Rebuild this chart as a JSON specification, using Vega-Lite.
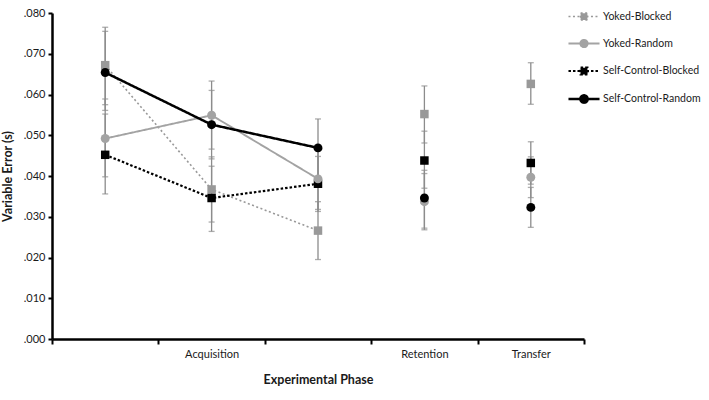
{
  "$schema": "https://vega.github.io/schema/vega-lite/v6.json",
  "width": 532,
  "height": 326,
  "autosize": {"type": "none"},
  "padding": {"left": 52, "top": 13, "right": 125, "bottom": 61},
  "background": "white",
  "data": {
    "values": [
      {"series": "Yoked-Blocked", "phase": "A1", "mean": 0.0672, "lo": 0.0575, "hi": 0.0765},
      {"series": "Yoked-Random", "phase": "A1", "mean": 0.0492, "lo": 0.0398, "hi": 0.0589},
      {"series": "Self-Control-Blocked", "phase": "A1", "mean": 0.0452, "lo": 0.0356, "hi": 0.0552},
      {"series": "Self-Control-Random", "phase": "A1", "mean": 0.0654, "lo": 0.0561, "hi": 0.0755},
      {"series": "Yoked-Blocked", "phase": "A2", "mean": 0.0367, "lo": 0.0287, "hi": 0.0447},
      {"series": "Yoked-Random", "phase": "A2", "mean": 0.0549, "lo": 0.0466, "hi": 0.0633},
      {"series": "Self-Control-Blocked", "phase": "A2", "mean": 0.0346, "lo": 0.0264, "hi": 0.0424},
      {"series": "Self-Control-Random", "phase": "A2", "mean": 0.0526, "lo": 0.0442, "hi": 0.0610},
      {"series": "Yoked-Blocked", "phase": "A3", "mean": 0.0266, "lo": 0.0195, "hi": 0.0337},
      {"series": "Yoked-Random", "phase": "A3", "mean": 0.0393, "lo": 0.0318, "hi": 0.0462},
      {"series": "Self-Control-Blocked", "phase": "A3", "mean": 0.0381, "lo": 0.0313, "hi": 0.0448},
      {"series": "Self-Control-Random", "phase": "A3", "mean": 0.0469, "lo": 0.0399, "hi": 0.0540},
      {"series": "Yoked-Blocked", "phase": "Retention", "mean": 0.0552, "lo": 0.0481, "hi": 0.0621},
      {"series": "Yoked-Random", "phase": "Retention", "mean": 0.0337, "lo": 0.0268, "hi": 0.0406},
      {"series": "Self-Control-Blocked", "phase": "Retention", "mean": 0.0438, "lo": 0.0370, "hi": 0.0510},
      {"series": "Self-Control-Random", "phase": "Retention", "mean": 0.0346, "lo": 0.0272, "hi": 0.0414},
      {"series": "Yoked-Blocked", "phase": "Transfer", "mean": 0.0626, "lo": 0.0576, "hi": 0.0678},
      {"series": "Yoked-Random", "phase": "Transfer", "mean": 0.0397, "lo": 0.0347, "hi": 0.0447},
      {"series": "Self-Control-Blocked", "phase": "Transfer", "mean": 0.0432, "lo": 0.0380, "hi": 0.0484},
      {"series": "Self-Control-Random", "phase": "Transfer", "mean": 0.0323, "lo": 0.0274, "hi": 0.0372}
    ]
  },
  "encoding": {
    "x": {
      "field": "phase",
      "type": "ordinal",
      "sort": ["A1", "A2", "A3", "Retention", "Transfer"],
      "scale": {"type": "band", "paddingInner": 0, "paddingOuter": 0},
      "axis": {
        "title": "Experimental Phase",
        "labelExpr": "datum.value == 'A2' ? 'Acquisition' : (datum.value == 'A1' || datum.value == 'A3') ? '' : datum.value",
        "labelAngle": 0,
        "tickBand": "extent",
        "tickSize": 5,
        "labelPadding": 4,
        "titlePadding": 14
      }
    }
  },
  "layer": [
    {
      "mark": {"type": "rule", "color": "#8c8c8c", "strokeWidth": 1.3},
      "encoding": {
        "y": {
          "field": "lo",
          "type": "quantitative",
          "scale": {"domain": [0, 0.08], "nice": false},
          "axis": {
            "title": "Variable Error (s)",
            "values": [0, 0.01, 0.02, 0.03, 0.04, 0.05, 0.06, 0.07, 0.08],
            "labelExpr": "replace(format(datum.value, '.3f'), '0.', '.')",
            "tickSize": 4,
            "labelPadding": 3,
            "titlePadding": 9
          }
        },
        "y2": {"field": "hi"}
      }
    },
    {
      "mark": {"type": "tick", "color": "#8c8c8c", "size": 6, "thickness": 1.3},
      "encoding": {"y": {"field": "lo", "type": "quantitative"}}
    },
    {
      "mark": {"type": "tick", "color": "#8c8c8c", "size": 6, "thickness": 1.3},
      "encoding": {"y": {"field": "hi", "type": "quantitative"}}
    },
    {
      "transform": [{"filter": "indexof(['A1','A2','A3'], datum.phase) >= 0"}],
      "mark": {"type": "line"},
      "encoding": {
        "y": {"field": "mean", "type": "quantitative"},
        "color": {
          "field": "series",
          "type": "nominal",
          "scale": {
            "domain": ["Yoked-Blocked", "Yoked-Random", "Self-Control-Blocked", "Self-Control-Random"],
            "range": ["#999999", "#a3a3a3", "#000000", "#000000"]
          },
          "legend": {
            "orient": "none",
            "legendX": 517,
            "legendY": -11,
            "title": null,
            "padding": 0,
            "symbolSize": 729,
            "rowPadding": 5,
            "labelOffset": 4,
            "labelFontSize": 10.5,
            "labelLimit": 200,
            "labelColor": "#1a1a1a",
            "encode": {
              "symbols": {
                "update": {
                  "shape": {"signal": "indexof(datum.value, 'Blocked') >= 0 ? 'M-1.15,0H1.15M-0.25,-0.25H0.25V0.25H-0.25Z' : 'M-1.15,0H1.15M0.27,0A0.27,0.27,0,1,1,-0.27,0A0.27,0.27,0,1,1,0.27,0Z'"},
                  "fill": {"scale": "color", "field": "value"},
                  "stroke": {"scale": "color", "field": "value"},
                  "strokeWidth": {"signal": "datum.value == 'Yoked-Blocked' ? 1.6 : 2.5"}
                }
              }
            }
          }
        },
        "strokeDash": {
          "field": "series",
          "type": "nominal",
          "scale": {
            "domain": ["Yoked-Blocked", "Yoked-Random", "Self-Control-Blocked", "Self-Control-Random"],
            "range": [[2, 2.5], [1, 0], [2.5, 2], [1, 0]]
          }
        },
        "strokeWidth": {
          "field": "series",
          "type": "nominal",
          "scale": {
            "domain": ["Yoked-Blocked", "Yoked-Random", "Self-Control-Blocked", "Self-Control-Random"],
            "range": [1.6, 2.5, 2.5, 2.5]
          },
          "legend": null
        }
      }
    },
    {
      "transform": [{"filter": "indexof(datum.series, 'Blocked') >= 0"}],
      "mark": {"type": "square", "opacity": 1, "size": 72},
      "encoding": {
        "y": {"field": "mean", "type": "quantitative"},
        "color": {"field": "series", "type": "nominal"}
      }
    },
    {
      "transform": [{"filter": "indexof(datum.series, 'Random') >= 0"}],
      "mark": {"type": "circle", "opacity": 1, "size": 80},
      "encoding": {
        "y": {"field": "mean", "type": "quantitative"},
        "color": {"field": "series", "type": "nominal"}
      }
    }
  ],
  "config": {
    "font": "Lato",
    "view": {"stroke": null},
    "axis": {
      "grid": false,
      "domainColor": "#000000",
      "domainWidth": 2.5,
      "tickColor": "#000000",
      "tickWidth": 2,
      "labelFont": "Lato",
      "labelFontSize": 11,
      "labelColor": "#1a1a1a",
      "titleFont": "Lato",
      "titleFontSize": 12.5,
      "titleFontWeight": "bold",
      "titleColor": "#1a1a1a"
    },
    "legend": {"labelFont": "Lato"}
  }
}
